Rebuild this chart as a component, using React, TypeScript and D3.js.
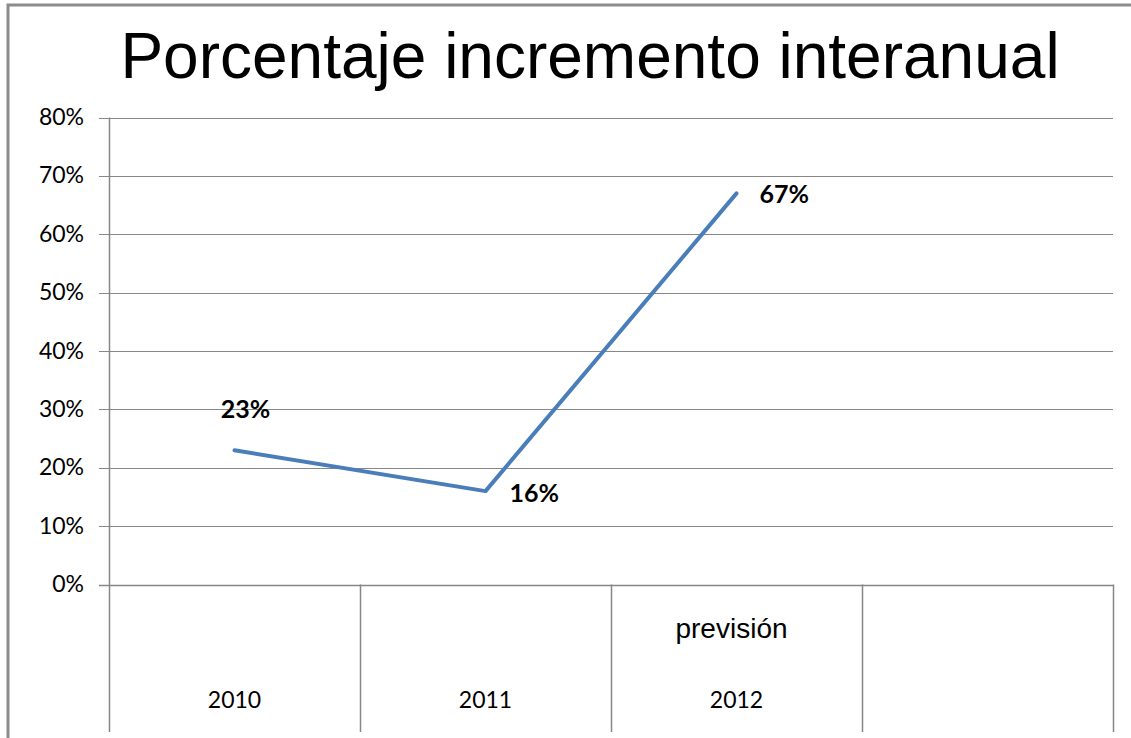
import React from "react";
import * as d3 from "d3";

const categories = ["2010", "2011", "2012", ""];
const categoryNotes = ["", "", "previsión", ""];
const values = [0.23, 0.16, 0.67];
const valueLabels = ["23%", "16%", "67%"];
const yTicks = [0, 0.1, 0.2, 0.3, 0.4, 0.5, 0.6, 0.7, 0.8];

const W = 1131;
const H = 738;
const plot = { left: 109, right: 1113, top: 117.5, bottom: 584.5, axisBottom: 732 };
const gridColor = "#878787";
const lineColor = "#4a7ebb";
const tickFont = "Lato, 'Open Sans', sans-serif";

// label nudges relative to each point (Excel-style placement)
const labelOffsets = [
  { dx: 11, dy: -32, anchor: "middle" },
  { dx: 24, dy: 11, anchor: "start" },
  { dx: 23, dy: 10, anchor: "start" },
];

export default function App() {
  const x = d3.scaleBand<string>()
    .domain(categories.map((c, i) => `${i}`))
    .range([plot.left, plot.right])
    .padding(0);

  const y = d3.scaleLinear().domain([0, 0.8]).range([plot.bottom, plot.top]);

  const points = values.map((v, i) => ({
    x: (x(`${i}`) ?? 0) + x.bandwidth() / 2,
    y: y(v),
  }));

  const line = d3.line<{ x: number; y: number }>().x(d => d.x).y(d => d.y);
  const fmt = d3.format(".0%");

  const bandEdges = categories.map((_, i) => x(`${i}`) ?? 0).concat([plot.right]);

  return (
    <svg
      width={W}
      height={H}
      style={{ position: "fixed", left: 0, top: 0, background: "#fff" }}
    >
      <rect x={0} y={0} width={W} height={H} fill="#fff" />
      {/* outer chart frame */}
      <rect x={8} y={5} width={1200} height={1000} fill="none" stroke="#8c8c8c" strokeWidth={3} />

      <text
        x={590}
        y={78}
        textAnchor="middle"
        fontFamily="'Liberation Sans', Arial, sans-serif"
        fontSize={64}
        fill="#000"
      >
        Porcentaje incremento interanual
      </text>

      {/* gridlines + y ticks */}
      {yTicks.map(t => (
        <g key={t}>
          <line
            x1={plot.left - 10}
            x2={plot.right}
            y1={Math.round(y(t)) + 0.5}
            y2={Math.round(y(t)) + 0.5}
            stroke={gridColor}
            strokeWidth={t === 0 ? 1.5 : 1}
          />
          <text
            x={84}
            y={y(t) + 7.5}
            textAnchor="end"
            fontFamily={tickFont}
            fontSize={23}
            fill="#000"
          >
            {fmt(t)}
          </text>
        </g>
      ))}

      {/* y axis */}
      <line x1={plot.left + 0.5} x2={plot.left + 0.5} y1={plot.top} y2={plot.axisBottom} stroke={gridColor} strokeWidth={1.5} />

      {/* category dividers */}
      {bandEdges.slice(1).map((e, i) => (
        <line key={i} x1={e + 0.5} x2={e + 0.5} y1={plot.bottom} y2={plot.axisBottom} stroke={gridColor} strokeWidth={1.5} />
      ))}

      {/* category labels */}
      {categories.map((c, i) => {
        const cx = (x(`${i}`) ?? 0) + x.bandwidth() / 2;
        return (
          <g key={i}>
            {categoryNotes[i] && (
              <text
                x={cx - 5}
                y={638}
                textAnchor="middle"
                fontFamily="'Liberation Sans', Arial, sans-serif"
                fontSize={28}
                fill="#000"
              >
                {categoryNotes[i]}
              </text>
            )}
            <text x={cx} y={708} textAnchor="middle" fontFamily={tickFont} fontSize={23} fill="#000">
              {c}
            </text>
          </g>
        );
      })}

      <path
        d={line(points) ?? ""}
        fill="none"
        stroke={lineColor}
        strokeWidth={4}
        strokeLinejoin="round"
        strokeLinecap="round"
      />

      {points.map((p, i) => (
        <text
          key={i}
          x={p.x + labelOffsets[i].dx}
          y={p.y + labelOffsets[i].dy}
          textAnchor={labelOffsets[i].anchor as "middle" | "start"}
          fontFamily={tickFont}
          fontWeight="bold"
          fontSize={25}
          fill="#000"
        >
          {valueLabels[i]}
        </text>
      ))}
    </svg>
  );
}
